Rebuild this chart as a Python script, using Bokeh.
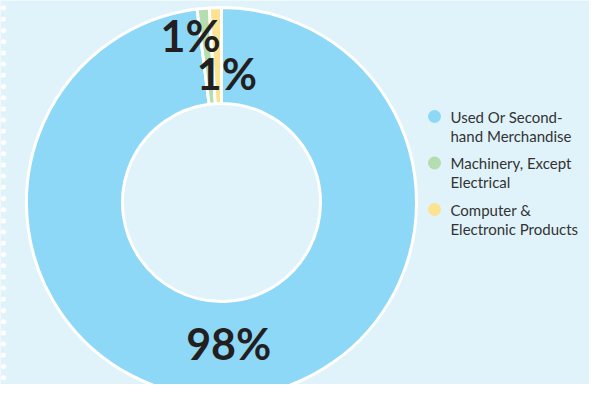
import numpy as np
from bokeh.plotting import figure
from bokeh.models import ColumnDataSource
from bokeh.core.properties import value
from bokeh.embed import file_html
from bokeh.resources import INLINE

# ---- data ----
categories = ["Used Or Second-hand Merchandise", "Machinery, Except Electrical", "Computer & Electronic Products"]
legend_lines = [["Used Or Second-", "hand Merchandise"], ["Machinery, Except", "Electrical"], ["Computer &", "Electronic Products"]]
values = [98.0, 1.0, 1.0]
labels = ["98%", "1%", "1%"]
colors = ["#8ED8F7", "#B4DDB0", "#FDE291"]
label_dx = [-2, -17, 10]
label_dy = [6, 21, -18]

W, H = 589, 384
BG = "#E1F3FA"

def sx(x):
    return x

def sy(y):
    return H - y

p = figure(width=W, height=H, x_range=(0, W), y_range=(0, H),
           output_backend="svg", toolbar_location=None,
           background_fill_color=BG, border_fill_color=BG, min_border=0)
p.axis.visible = False
p.grid.visible = False
p.outline_line_color = None

cx, cy = sx(221), sy(202)
r_out, r_in = 195, 99

vals = np.array(values)
frac = vals / vals.sum()
cum_after = np.cumsum(frac)
cum_before = cum_after - frac
start = np.pi / 2 - 2 * np.pi * cum_after
end = np.pi / 2 - 2 * np.pi * cum_before

src = ColumnDataSource(dict(start=start, end=end, color=colors, cat=categories))
p.annular_wedge(x=cx, y=cy, inner_radius=r_in, outer_radius=r_out,
                start_angle="start", end_angle="end", direction="anticlock",
                fill_color="color", line_color="white", line_width=3, source=src)

# labels
mid = (start + end) / 2
r_lab = (r_in + r_out) / 2
lx = cx + r_lab * np.cos(mid) + np.array(label_dx)
ly = cy + r_lab * np.sin(mid) + np.array(label_dy)
p.text(x=lx, y=ly, text=labels, text_align="center", text_baseline="middle",
       text_font=value("Lato"), text_font_style="bold", text_font_size="43px",
       text_color="#231F20")

# legend
leg_x = sx(434)
leg_y0 = sy(116)
row_gap = 46.5
line_gap = 19
rows_y = leg_y0 - row_gap * np.arange(len(categories))
p.scatter(x=[leg_x] * len(categories), y=rows_y, size=13, fill_color=colors, line_color=None)
tx, ty, tt = [], [], []
for i, lines in enumerate(legend_lines):
    for j, t in enumerate(lines):
        tx.append(sx(450))
        ty.append(rows_y[i] - j * line_gap)
        tt.append(t)
p.text(x=tx, y=ty, text=tt, text_align="left", text_baseline="middle",
       text_font=value("Lato"), text_font_size="15px", text_color="#333333")

# decorative dotted edge
dot_y = sy(np.arange(7.6, H, 11.2))
p.scatter(x=np.full(len(dot_y), sx(3)), y=dot_y, size=5, fill_color="white", line_color=None)

open("out.html", "w").write(file_html(p, INLINE))
